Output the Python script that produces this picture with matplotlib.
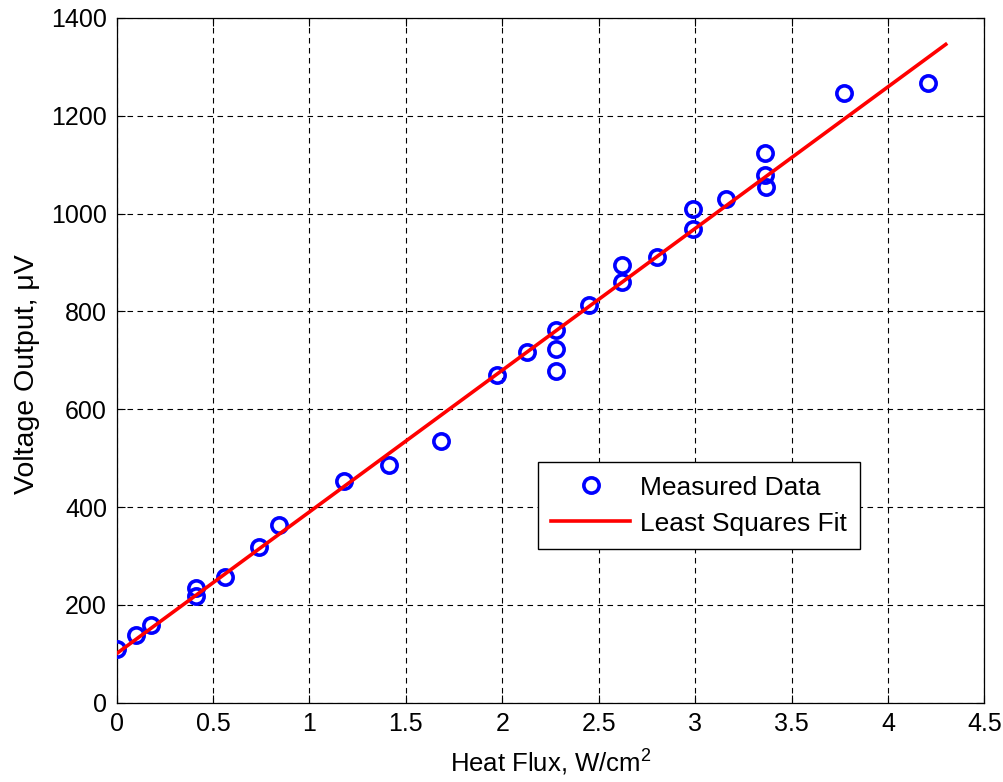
import numpy as np
import matplotlib
matplotlib.use("Agg")
import matplotlib.pyplot as plt

# measured points
heat_flux = [0.0, 0.10, 0.18, 0.41, 0.41, 0.56, 0.74, 0.84, 1.18, 1.41, 1.68,
             1.97, 2.13, 2.28, 2.28, 2.28, 2.45, 2.62, 2.62, 2.80, 2.99, 2.99,
             3.16, 3.36, 3.36, 3.37, 3.77, 4.21]
voltage = [110, 139, 159, 234, 219, 257, 318, 364, 453, 486, 535,
           669, 718, 761, 723, 678, 813, 895, 861, 911, 1009, 968,
           1029, 1123, 1079, 1054, 1246, 1266]
fit_range = [0.0, 4.3]

plt.rcParams['font.family'] = ['Liberation Sans', 'DejaVu Sans']
plt.rcParams['mathtext.fontset'] = 'custom'
plt.rcParams['mathtext.rm'] = 'Liberation Sans'

x = np.array(heat_flux)
y = np.array(voltage)
p = np.polyfit(x, y, 1)
xf = np.array(fit_range)
yf = np.polyval(p, xf)

fig = plt.figure(figsize=(10.04, 7.82), dpi=100)
ax = fig.add_axes([0.1162, 0.1014, 0.8642, 0.8757])

ax.plot(x, y, 'o', mfc='none', mec='#0000ff', ms=11, mew=2.6,
        label='Measured Data', zorder=3)
ax.plot(xf, yf, '-', color='#ff0000', lw=2.6, label='Least Squares Fit', zorder=4)

ax.set_xlim(0, 4.5)
ax.set_ylim(0, 1400)
ax.set_xticks(np.arange(0, 4.51, 0.5))
ax.set_xticklabels(['0', '0.5', '1', '1.5', '2', '2.5', '3', '3.5', '4', '4.5'])
ax.set_yticks(np.arange(0, 1401, 200))
ax.grid(True, color='black', linestyle=(0, (5, 4)), linewidth=0.8)
ax.tick_params(direction='in', top=True, right=True, labelsize=18, length=6, pad=7)
for s in ax.spines.values():
    s.set_linewidth(0.9)

ax.set_xlabel('Heat Flux, W/cm$^{2}$', fontsize=18.5, labelpad=7)
ax.set_ylabel('Voltage Output, \u03bcV', fontsize=20.5)
ax.yaxis.set_label_coords(-0.088, 0.48)

leg = ax.legend(loc='lower left', bbox_to_anchor=(0.4856, 0.2248), fontsize=19,
                fancybox=False, framealpha=1, edgecolor='black',
                handlelength=3.0, handletextpad=0.35, borderpad=0.5,
                labelspacing=0.45, borderaxespad=0)
leg.get_frame().set_linewidth(1.0)

fig.savefig('out.png', dpi=100)
